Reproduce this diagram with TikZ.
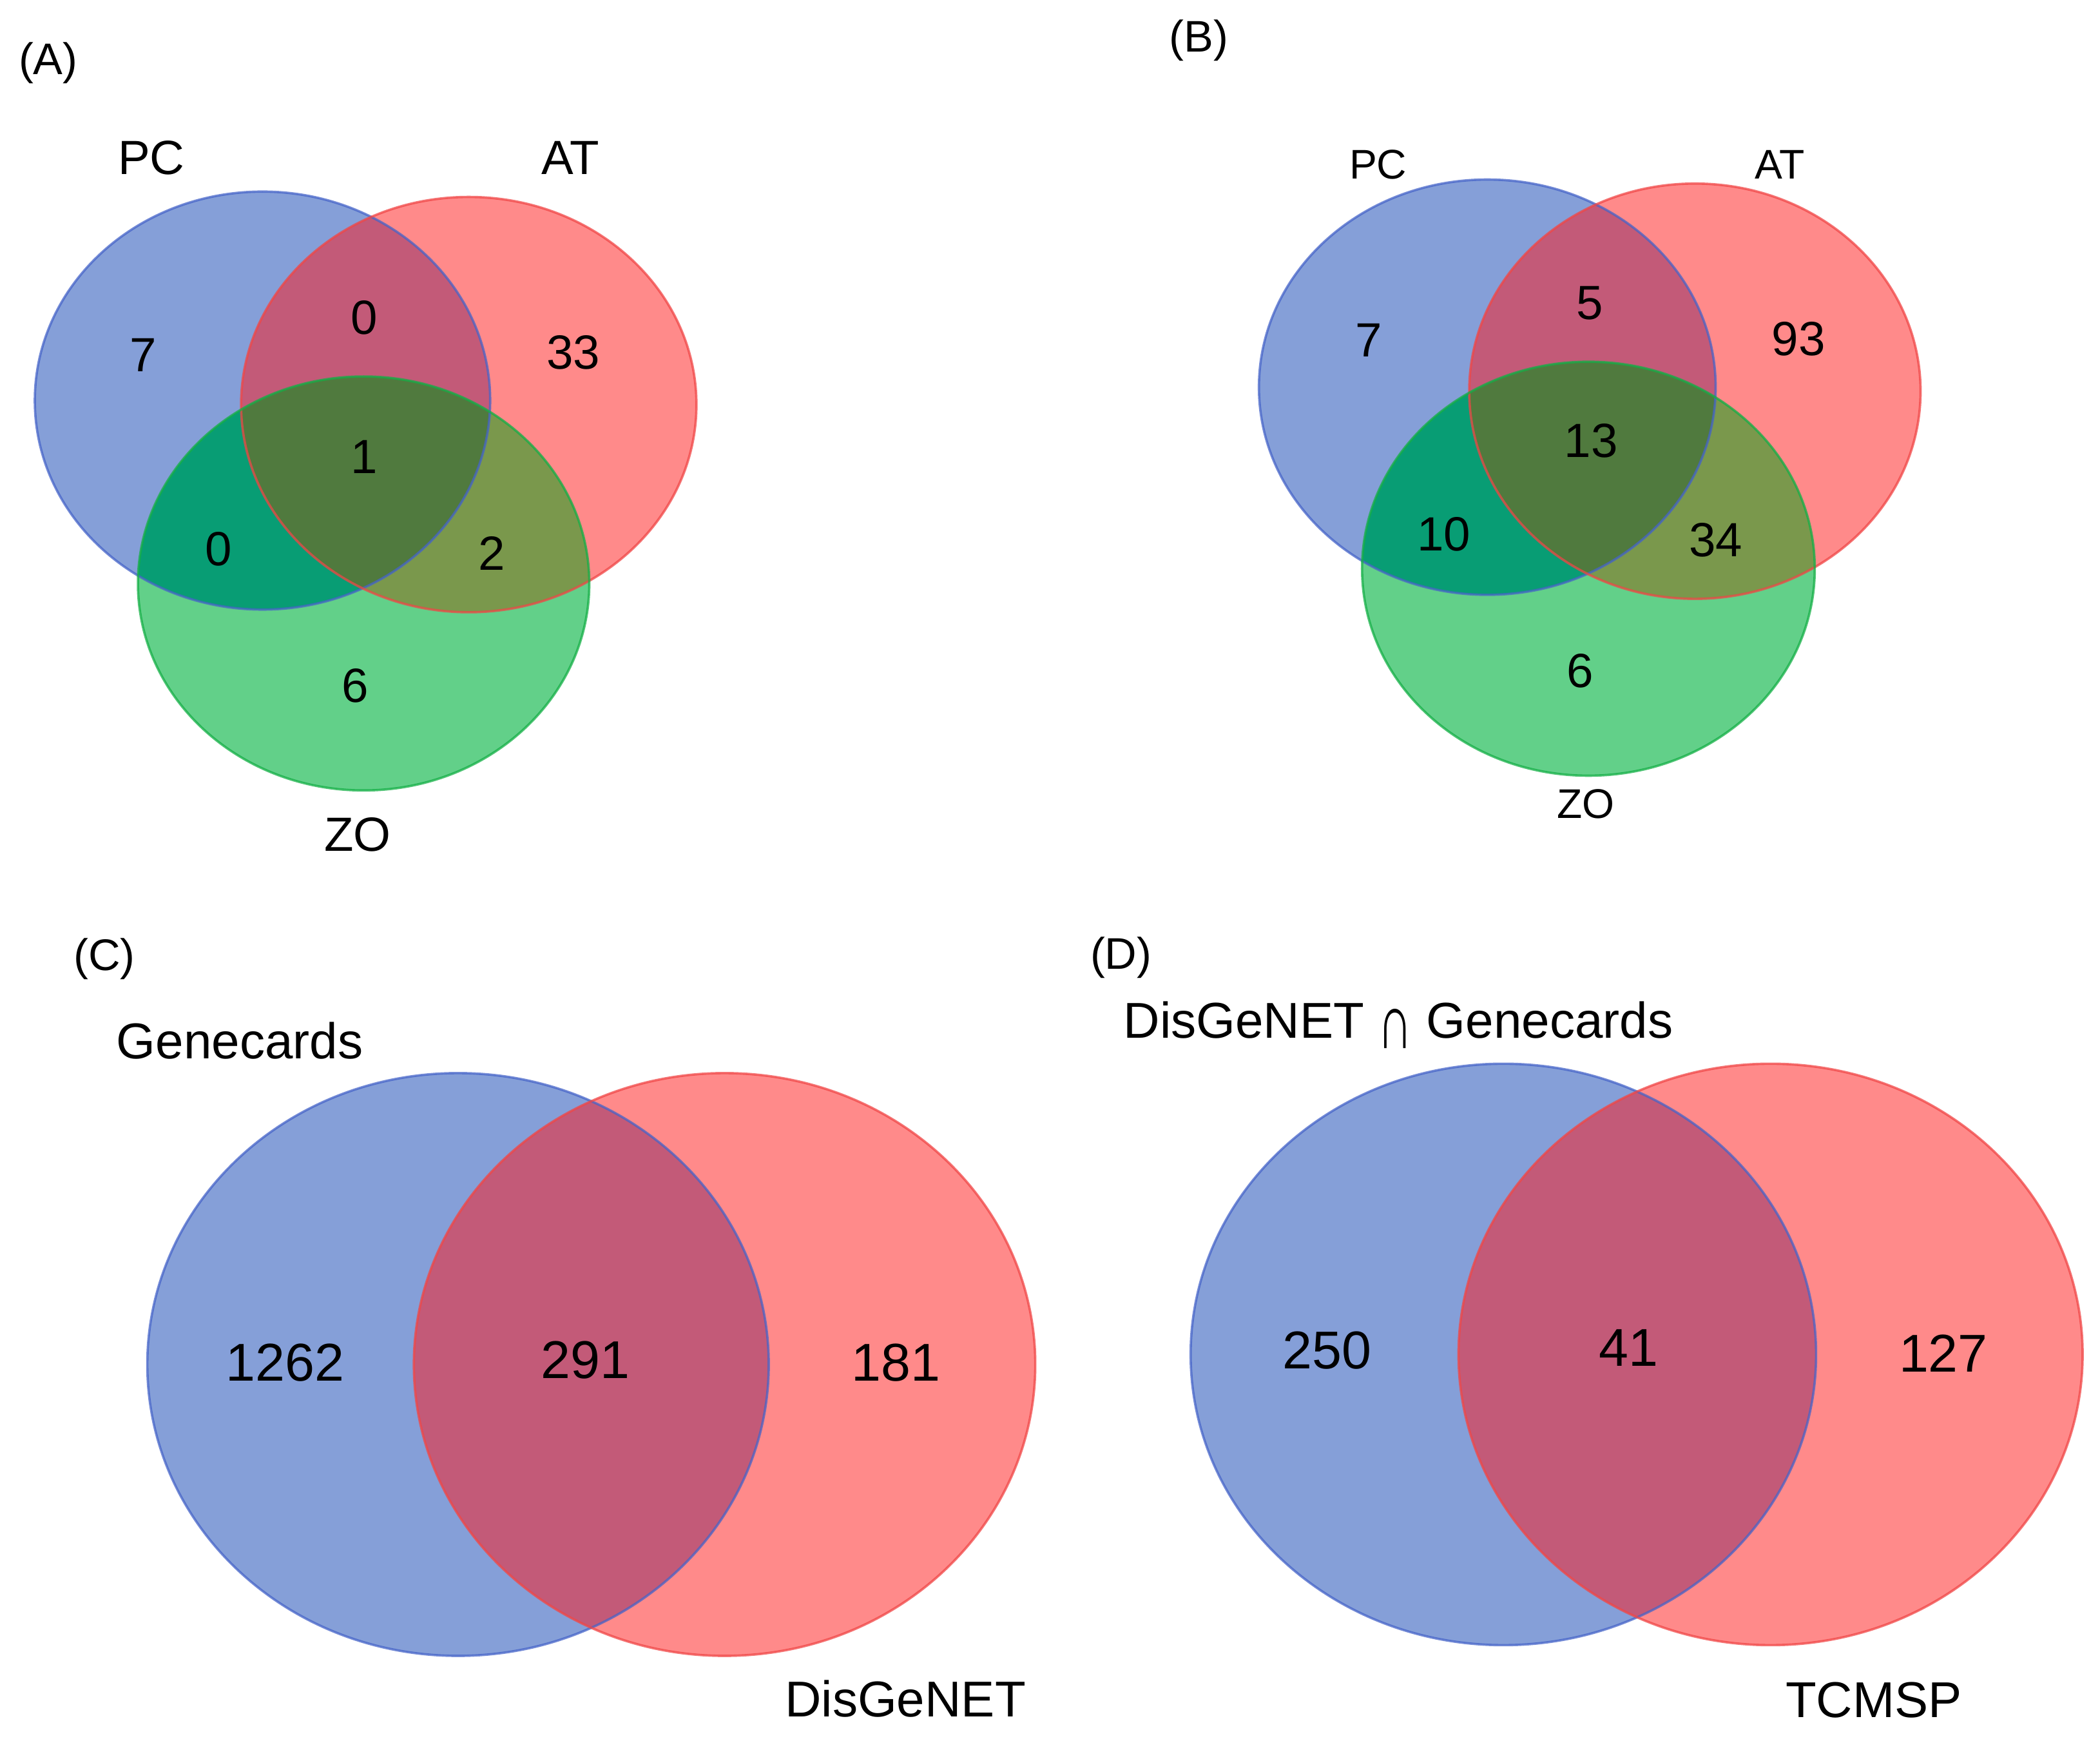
\documentclass[tikz,border=0pt]{standalone}
\usepackage{fontspec}
\setmainfont{Liberation Sans}
\usepackage{tikz}
\usetikzlibrary{calc}
\definecolor{blueonly}{RGB}{133,159,216}
\definecolor{redonly}{RGB}{255,138,138}
\definecolor{greenonly}{RGB}{98,208,137}
\definecolor{bluered}{RGB}{195,90,120}
\definecolor{bluegreen}{RGB}{8,157,116}
\definecolor{redgreen}{RGB}{122,152,76}
\definecolor{allthree}{RGB}{80,122,62}
\definecolor{blueedge}{RGB}{70,100,200}
\definecolor{rededge}{RGB}{240,70,70}
\definecolor{greenedge}{RGB}{20,175,70}
\tikzset{>=latex}
\tikzset{
  panel/.style = {inner sep = 0pt, font = \fontsize{9.4}{11}\selectfont},
  setlab/.style = {inner sep = 0pt, font = \fontsize{10.2}{12}\selectfont},
  setlabsmall/.style = {inner sep = 0pt, font = \fontsize{8.8}{10}\selectfont},
  setlabbig/.style = {inner sep = 0pt, font = \fontsize{10.7}{12}\selectfont},
  count/.style = {inner sep = 0pt, font = \fontsize{10.2}{12}\selectfont},
  countbig/.style = {inner sep = 0pt, font = \fontsize{11.3}{13}\selectfont},
  rim/.style = {line width = 0.5pt, draw opacity = 0.75}
}

\begin{document}
\begin{tikzpicture}
\useasboundingbox (0,0) rectangle (15.68,-12.98);

% ---------------- (A)
\fill[blueonly] (1.96,-2.99) ellipse (1.70 and 1.56);
\fill[redonly] (3.50,-3.02) ellipse (1.70 and 1.55);
\fill[greenonly] (2.715,-4.355) ellipse (1.685 and 1.545);
\begin{scope}
\clip (3.50,-3.02) ellipse (1.70 and 1.55);
\fill[redgreen] (2.715,-4.355) ellipse (1.685 and 1.545);
\end{scope}
\begin{scope}
\clip (1.96,-2.99) ellipse (1.70 and 1.56);
\fill[bluered] (3.50,-3.02) ellipse (1.70 and 1.55);
\fill[bluegreen] (2.715,-4.355) ellipse (1.685 and 1.545);
\clip (3.50,-3.02) ellipse (1.70 and 1.55);
\fill[allthree] (2.715,-4.355) ellipse (1.685 and 1.545);
\end{scope}
\draw[rim, blueedge] (1.96,-2.99) ellipse (1.70 and 1.56);
\draw[rim, rededge] (3.50,-3.02) ellipse (1.70 and 1.55);
\draw[rim, greenedge] (2.715,-4.355) ellipse (1.685 and 1.545);

\node[panel] (lblA) at (0.36,-0.47) {(A)};
\node[setlab] (pcA) at (1.13,-1.18) {PC};
\node[setlab] (atA) at (4.26,-1.18) {AT};
\node[setlab] (zoA) at (2.67,-6.23) {ZO};
\node[count] (pA) at (1.07,-2.65) {7};
\node[count] (paA) at (2.72,-2.37) {0};
\node[count] (aA) at (4.28,-2.63) {33};
\node[count] (pazA) at (2.72,-3.41) {1};
\node[count] (pzA) at (1.63,-4.10) {0};
\node[count] (azA) at (3.67,-4.13) {2};
\node[count] (zA) at (2.65,-5.12) {6};

% ---------------- (B)
\fill[blueonly] (11.105,-2.89) ellipse (1.705 and 1.55);
\fill[redonly] (12.655,-2.92) ellipse (1.685 and 1.55);
\fill[greenonly] (11.86,-4.245) ellipse (1.69 and 1.545);
\begin{scope}
\clip (12.655,-2.92) ellipse (1.685 and 1.55);
\fill[redgreen] (11.86,-4.245) ellipse (1.69 and 1.545);
\end{scope}
\begin{scope}
\clip (11.105,-2.89) ellipse (1.705 and 1.55);
\fill[bluered] (12.655,-2.92) ellipse (1.685 and 1.55);
\fill[bluegreen] (11.86,-4.245) ellipse (1.69 and 1.545);
\clip (12.655,-2.92) ellipse (1.685 and 1.55);
\fill[allthree] (11.86,-4.245) ellipse (1.69 and 1.545);
\end{scope}
\draw[rim, blueedge] (11.105,-2.89) ellipse (1.705 and 1.55);
\draw[rim, rededge] (12.655,-2.92) ellipse (1.685 and 1.55);
\draw[rim, greenedge] (11.86,-4.245) ellipse (1.69 and 1.545);

\node[panel] (lblB) at (8.95,-0.30) {(B)};
\node[setlabsmall] (pcB) at (10.29,-1.23) {PC};
\node[setlabsmall] (atB) at (13.29,-1.23) {AT};
\node[setlabsmall] (zoB) at (11.84,-6.00) {ZO};
\node[count] (pB) at (10.22,-2.54) {7};
\node[count] (paB) at (11.87,-2.26) {5};
\node[count] (aB) at (13.43,-2.53) {93};
\node[count] (pazB) at (11.88,-3.29) {13};
\node[count] (pzB) at (10.78,-3.99) {10};
\node[count] (azB) at (12.81,-4.03) {34};
\node[count] (zB) at (11.80,-5.01) {6};

% ---------------- (C)
\fill[blueonly] (3.42,-10.185) ellipse (2.32 and 2.175);
\fill[redonly] (5.41,-10.185) ellipse (2.32 and 2.175);
\begin{scope}
\clip (3.42,-10.185) ellipse (2.32 and 2.175);
\fill[bluered] (5.41,-10.185) ellipse (2.32 and 2.175);
\end{scope}
\draw[rim, blueedge] (3.42,-10.185) ellipse (2.32 and 2.175);
\draw[rim, rededge] (5.41,-10.185) ellipse (2.32 and 2.175);

\node[panel] (lblC) at (0.78,-7.16) {(C)};
\node[setlabbig] (gcC) at (1.79,-7.77) {Genecards};
\node[setlabbig] (dgC) at (6.76,-12.68) {DisGeNET};
\node[countbig] (gC) at (2.13,-10.17) {1262};
\node[countbig] (gdC) at (4.37,-10.15) {291};
\node[countbig] (dC) at (6.69,-10.17) {181};

% ---------------- (D)
\fill[blueonly] (11.225,-10.11) ellipse (2.335 and 2.17);
\fill[redonly] (13.22,-10.11) ellipse (2.33 and 2.17);
\begin{scope}
\clip (11.225,-10.11) ellipse (2.335 and 2.17);
\fill[bluered] (13.22,-10.11) ellipse (2.33 and 2.17);
\end{scope}
\draw[rim, blueedge] (11.225,-10.11) ellipse (2.335 and 2.17);
\draw[rim, rededge] (13.22,-10.11) ellipse (2.33 and 2.17);

\node[panel] (lblD) at (8.37,-7.15) {(D)};
\node[setlabbig] (dgD) at (10.44,-7.65) {DisGeNET \raisebox{-0.4ex}{\scalebox{0.95}[1.55]{∩}} Genecards};
\node[setlabbig] (tcD) at (13.99,-12.69) {TCMSP};
\node[countbig] (dD) at (9.91,-10.08) {250};
\node[countbig] (dtD) at (12.16,-10.06) {41};
\node[countbig] (tD) at (14.51,-10.10) {127};
\end{tikzpicture}
\end{document}
